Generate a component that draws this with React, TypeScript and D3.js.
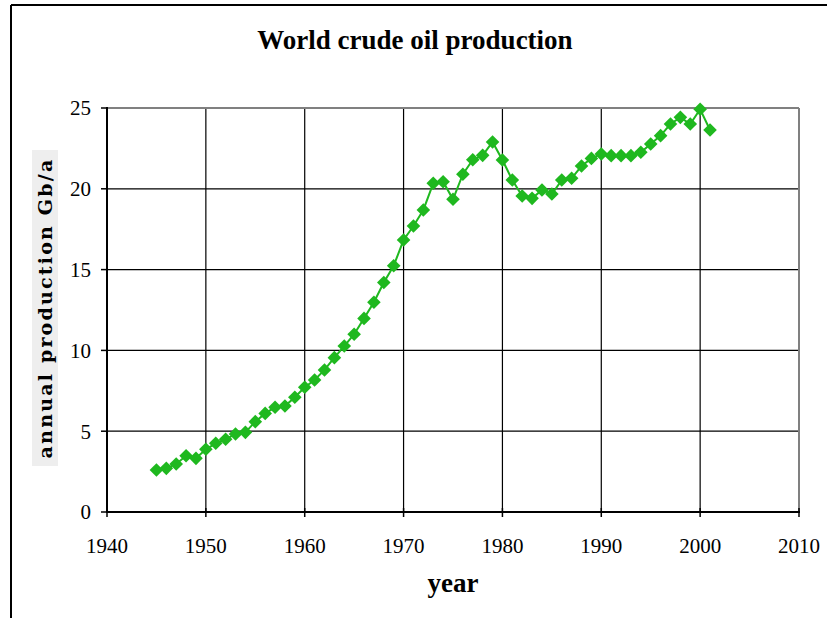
import React from "react";
import * as d3 from "d3";

const years: number[] = [
  1945, 1946, 1947, 1948, 1949, 1950, 1951, 1952, 1953, 1954, 1955, 1956, 1957, 1958, 1959,
  1960, 1961, 1962, 1963, 1964, 1965, 1966, 1967, 1968, 1969, 1970, 1971, 1972, 1973, 1974,
  1975, 1976, 1977, 1978, 1979, 1980, 1981, 1982, 1983, 1984, 1985, 1986, 1987, 1988, 1989,
  1990, 1991, 1992, 1993, 1994, 1995, 1996, 1997, 1998, 1999, 2000, 2001,
];
const production: number[] = [
  2.6, 2.7, 2.97, 3.48, 3.32, 3.88, 4.25, 4.5, 4.83, 4.93, 5.59, 6.1, 6.48, 6.56, 7.1,
  7.72, 8.17, 8.79, 9.55, 10.27, 11.0, 11.98, 12.98, 14.2, 15.24, 16.83, 17.7, 18.69, 20.34, 20.44,
  19.35, 20.9, 21.8, 22.07, 22.9, 21.78, 20.54, 19.55, 19.41, 19.93, 19.68, 20.54, 20.65, 21.41, 21.88,
  22.15, 22.05, 22.05, 22.05, 22.26, 22.77, 23.29, 24.01, 24.42, 24.01, 24.92, 23.64,
];
const xTicks: number[] = [1940, 1950, 1960, 1970, 1980, 1990, 2000, 2010];
const yTicks: number[] = [0, 5, 10, 15, 20, 25];

const title = "World crude oil production";
const xLabel = "year";
const yLabel = "annual production Gb/a";

export default function App() {
  const W = 827;
  const H = 618;
  const left = 107;
  const right = 799;
  const top = 108;
  const bottom = 512;
  const x = d3.scaleLinear().domain([1940, 2010]).range([left, right]);
  const y = d3.scaleLinear().domain([0, 25]).range([bottom, top]);
  const pts = years.map((yr, i) => [x(yr), y(production[i])] as [number, number]);
  const line = d3.line()(pts) || "";
  const green = "#1fb81f";
  const serif = "'Liberation Serif', 'Times New Roman', serif";
  const r = 6.8;
  const diamond = `M0,${-r}L${r},0L0,${r}L${-r},0Z`;

  return (
    <svg
      width={W}
      height={H}
      style={{ position: "absolute", left: 0, top: 0, background: "#fff" }}
      fontFamily={serif}
    >
      {/* outer frame */}
      <line x1={11} y1={5} x2={W} y2={5} stroke="#000" strokeWidth={2} />
      <line x1={11} y1={5} x2={11} y2={H} stroke="#000" strokeWidth={2} />

      <text x={415} y={49} textAnchor="middle" fontSize={27} fontWeight="bold">
        {title}
      </text>

      {/* gridlines */}
      {yTicks.filter((t) => t > 0 && t < 25).map((t) => (
        <line key={"gy" + t} x1={left} x2={right} y1={y(t)} y2={y(t)} stroke="#000" strokeWidth={1.2} />
      ))}
      {xTicks.filter((t) => t > 1940 && t < 2010).map((t) => (
        <line key={"gx" + t} x1={x(t)} x2={x(t)} y1={top} y2={bottom} stroke="#000" strokeWidth={1.2} />
      ))}

      {/* plot border top/right */}
      <line x1={left} x2={right} y1={top} y2={top} stroke="#808080" strokeWidth={2} />
      <line x1={right} x2={right} y1={top} y2={bottom} stroke="#808080" strokeWidth={2} />

      {/* axes */}
      <line x1={left} x2={left} y1={top - 1} y2={bottom + 1} stroke="#000" strokeWidth={2} />
      <line x1={left - 1} x2={right + 1} y1={bottom} y2={bottom} stroke="#000" strokeWidth={2} />

      {yTicks.map((t) => (
        <g key={"yt" + t}>
          <line x1={left - 6} x2={left} y1={y(t)} y2={y(t)} stroke="#000" strokeWidth={1.5} />
          <text x={left - 16} y={y(t)} dy="0.35em" textAnchor="end" fontSize={21}>
            {t}
          </text>
        </g>
      ))}
      {xTicks.map((t) => (
        <g key={"xt" + t}>
          <line x1={x(t)} x2={x(t)} y1={bottom - 4} y2={bottom + 5} stroke="#000" strokeWidth={1.5} />
          <text x={x(t)} y={553} textAnchor="middle" fontSize={21}>
            {t}
          </text>
        </g>
      ))}

      <text x={453} y={592} textAnchor="middle" fontSize={27} fontWeight="bold">
        {xLabel}
      </text>

      {/* y label */}
      <g transform="translate(45,308) rotate(-90)">
        <rect x={-158} y={-13} width={316} height={26} fill="#eeeeee" />
        <text
          x={0}
          y={0}
          dy="0.35em"
          textAnchor="middle"
          fontSize={19}
          fontWeight="bold"
          letterSpacing={2.2}
          fontFamily="'DejaVu Serif', serif"
        >
          {yLabel}
        </text>
      </g>

      <path d={line} fill="none" stroke={green} strokeWidth={2} />
      {pts.map((p, i) => (
        <path key={"m" + i} d={diamond} transform={`translate(${p[0]},${p[1]})`} fill={green} />
      ))}
    </svg>
  );
}
